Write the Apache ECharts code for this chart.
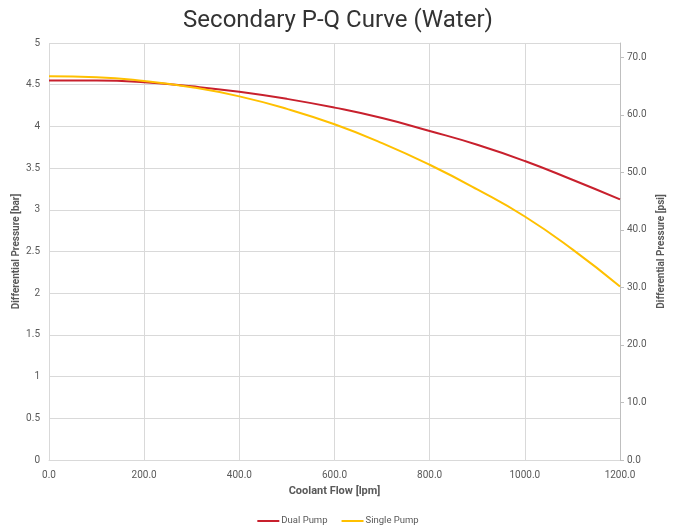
<!DOCTYPE html>
<html>
<head>
<meta charset="utf-8">
<script src="https://cdn.jsdelivr.net/npm/echarts@6/dist/echarts.min.js"></script>
<style>
html,body{margin:0;padding:0;background:#fff;}
#chart{width:676px;height:527px;}
</style>
</head>
<body>
<div id="chart"></div>
<script>
const flow = [0, 100, 200, 300, 400, 500, 600, 700, 800, 900, 1000, 1100, 1200];
const dualPump = [4.55, 4.55, 4.53, 4.48, 4.415, 4.33, 4.225, 4.10, 3.945, 3.78, 3.585, 3.36, 3.125];
const singlePump = [4.60, 4.59, 4.545, 4.47, 4.36, 4.21, 4.025, 3.80, 3.54, 3.245, 2.92, 2.525, 2.08];
const seriesNames = ['Dual Pump', 'Single Pump'];
const BAR_TO_PSI = 14.5038;

const chart = echarts.init(document.getElementById('chart'));
const labelColor = '#595959';
const font = 'Roboto';
chart.setOption({
  animation: false,
  textStyle: {fontFamily: font},
  title: {
    text: 'Secondary P-Q Curve (Water)',
    left: 'center',
    top: 4,
    textStyle: {fontFamily: font, fontSize: 24, fontWeight: 'normal', color: '#333333'}
  },
  legend: {
    top: 511,
    left: 'center',
    icon: 'rect',
    itemWidth: 22,
    itemHeight: 2,
    itemGap: 14,
    textStyle: {fontSize: 9.5, color: labelColor, fontFamily: font, padding: [0, 0, 0, -3]},
    data: seriesNames
  },
  grid: {left: 49, right: 56, top: 43, bottom: 67, outerBoundsMode: 'none', containLabel: false},
  xAxis: {
    type: 'value',
    min: 0, max: 1200, interval: 200,
    name: 'Coolant Flow [lpm]',
    nameLocation: 'middle',
    nameGap: 26,
    nameMoveOverlap: false,
    nameTextStyle: {fontSize: 11, fontWeight: 'bold', color: labelColor},
    axisLine: {show: true, lineStyle: {color: '#d9d9d9'}},
    axisTick: {show: false},
    axisLabel: {color: labelColor, fontSize: 10, formatter: v => v.toFixed(1), margin: 10},
    splitLine: {show: true, lineStyle: {color: '#d9d9d9'}}
  },
  yAxis: [
    {
      type: 'value',
      min: 0, max: 5, interval: 0.5,
      name: 'Differential Pressure [bar]',
      nameLocation: 'middle',
      nameGap: 28,
      nameMoveOverlap: false,
      nameTextStyle: {fontSize: 10, fontWeight: 'bold', color: labelColor},
      axisLine: {show: false},
      axisTick: {show: false},
      axisLabel: {color: labelColor, fontSize: 10, margin: 9},
      splitLine: {show: true, lineStyle: {color: '#d9d9d9'}}
    },
    {
      type: 'value',
      position: 'right',
      min: 0, max: 5 * BAR_TO_PSI, interval: 10,
      name: 'Differential Pressure [psi]',
      nameLocation: 'middle',
      nameGap: 36,
      nameRotate: 90,
      nameMoveOverlap: false,
      nameTextStyle: {fontSize: 10, fontWeight: 'bold', color: labelColor},
      axisLine: {show: true, lineStyle: {color: '#bfbfbf'}},
      axisTick: {show: true, inside: false, length: 4, lineStyle: {color: '#bfbfbf'}},
      axisLabel: {color: labelColor, fontSize: 10, margin: 7, showMaxLabel: false, formatter: v => v.toFixed(1)},
      splitLine: {show: false}
    }
  ],
  series: [
    {
      name: seriesNames[0],
      type: 'line',
      smooth: true,
      showSymbol: false,
      symbol: 'none',
      yAxisIndex: 0,
      lineStyle: {width: 2, color: '#C8202D'},
      itemStyle: {color: '#C8202D'},
      data: flow.map((f, i) => [f, dualPump[i]])
    },
    {
      name: seriesNames[1],
      type: 'line',
      smooth: true,
      showSymbol: false,
      symbol: 'none',
      yAxisIndex: 0,
      lineStyle: {width: 2, color: '#FFC000'},
      itemStyle: {color: '#FFC000'},
      data: flow.map((f, i) => [f, singlePump[i]])
    }
  ]
});
</script>
</body>
</html>
